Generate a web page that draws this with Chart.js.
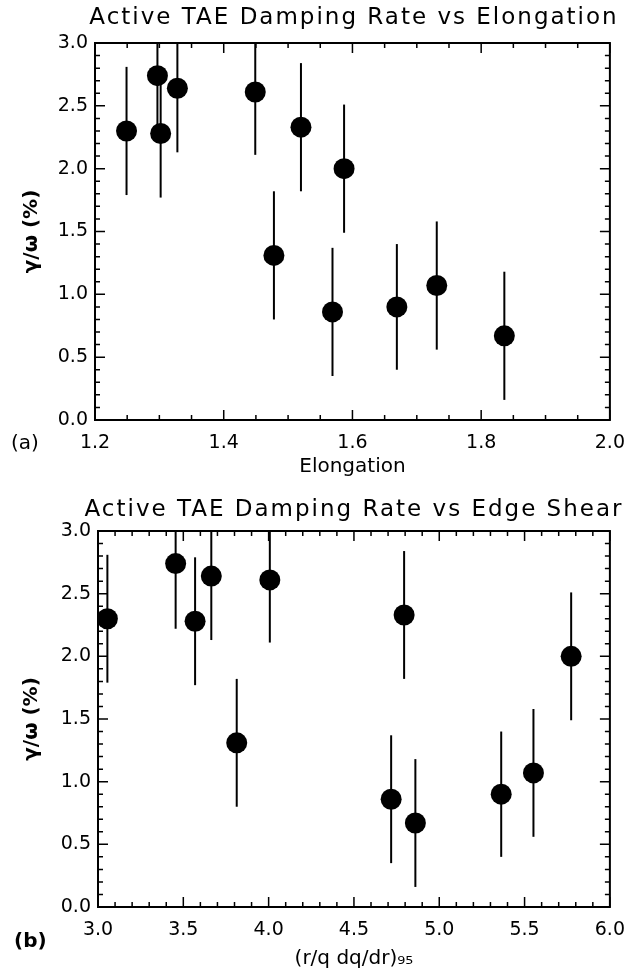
<!DOCTYPE html>
<html lang="en">
<head>
<meta charset="utf-8">
<title>Active TAE Damping Rate</title>
<script src="https://cdn.jsdelivr.net/npm/chart.js@4.4.1/dist/chart.umd.min.js"></script>
<style>
  html, body { margin: 0; padding: 0; background: #fff; }
  body { width: 637px; height: 971px; position: relative; overflow: hidden; font-family: "DejaVu Sans", sans-serif; color: #000; }
  .panel { position: absolute; left: 0; width: 637px; }
  #panelA { top: 0; height: 480px; }
  #panelB { top: 480px; height: 491px; }
  .titulo { position: absolute; font-size: 23px; line-height: 26px; letter-spacing: 2px; white-space: nowrap; transform: translateX(-50%); }
  .etiqueta { position: absolute; font-size: 20px; line-height: 22px; }
</style>
</head>
<body>
<div class="panel" id="panelA"><canvas id="graficaA"></canvas></div>
<div class="panel" id="panelB"><canvas id="graficaB"></canvas></div>

<div class="titulo" style="left:354px; top:3px;">Active TAE Damping Rate vs Elongation</div>
<div class="titulo" style="left:354px; top:495px;">Active TAE Damping Rate vs Edge Shear</div>
<div class="etiqueta" style="left:11px; top:431px;">(a)</div>
<div class="etiqueta" style="left:14px; top:929px; font-weight:bold;">(b)</div>

<script>
/* =======================================
   DATOS
======================================= */
// gamma/omega (%) de cada descarga, mismo orden en ambos paneles
const dampingRate = [2.30, 2.74, 2.28, 2.64, 2.61, 1.31, 2.33, 0.86, 2.00, 0.90, 1.07, 0.67];
// semiancho de la barra de error
const errorRate   = [0.51, 0.52, 0.51, 0.51, 0.50, 0.51, 0.51, 0.51, 0.51, 0.50, 0.51, 0.51];

// panel (a): elongación
const elongation = [1.249, 1.297, 1.302, 1.328, 1.449, 1.478, 1.520, 1.569, 1.587, 1.669, 1.731, 1.836];
// panel (b): cizalla de borde (r/q dq/dr)95
const edgeShear  = [3.055, 3.455, 3.569, 3.664, 4.007, 3.813, 4.794, 4.718, 5.773, 5.363, 5.552, 4.860];

const yTicks  = [0.0, 0.5, 1.0, 1.5, 2.0, 2.5, 3.0];
const xTicksA = [1.2, 1.4, 1.6, 1.8, 2.0];
const xTicksB = [3.0, 3.5, 4.0, 4.5, 5.0, 5.5, 6.0];

const FUENTE = "'DejaVu Sans', sans-serif";

/* =======================================
   PLUGIN: marco, marcas hacia dentro y barras de error
======================================= */
function dibujarMarcas(ctx, area, escala, menor, cadaMayor, horizontal) {
  const n = Math.round((escala.max - escala.min) / menor);
  for (let k = 0; k <= n; k++) {
    const v = escala.min + k * menor;
    const largo = k % cadaMayor === 0 ? 10 : 5;
    const p = escala.getPixelForValue(v);
    ctx.beginPath();
    if (horizontal) {
      ctx.moveTo(p, area.bottom); ctx.lineTo(p, area.bottom - largo);
      ctx.moveTo(p, area.top);    ctx.lineTo(p, area.top + largo);
    } else {
      ctx.moveTo(area.left, p);  ctx.lineTo(area.left + largo, p);
      ctx.moveTo(area.right, p); ctx.lineTo(area.right - largo, p);
    }
    ctx.stroke();
  }
}

const ejesIDL = {
  id: "ejesIDL",
  beforeDatasetsDraw(chart) {
    const { ctx, chartArea, scales } = chart;
    const ds = chart.data.datasets[0];
    ctx.save();
    ctx.beginPath();
    ctx.rect(chartArea.left, chartArea.top, chartArea.right - chartArea.left, chartArea.bottom - chartArea.top);
    ctx.clip();
    ctx.strokeStyle = "#000";
    ctx.lineWidth = 2;
    ds.data.forEach((pt, i) => {
      const px = scales.x.getPixelForValue(pt.x);
      ctx.beginPath();
      ctx.moveTo(px, scales.y.getPixelForValue(pt.y - ds.errores[i]));
      ctx.lineTo(px, scales.y.getPixelForValue(pt.y + ds.errores[i]));
      ctx.stroke();
    });
    ctx.restore();
  },
  afterDraw(chart, args, opts) {
    const { ctx, chartArea, scales } = chart;
    ctx.save();
    ctx.strokeStyle = "#000";
    ctx.lineWidth = 1.5;
    dibujarMarcas(ctx, chartArea, scales.x, opts.xMenor, opts.xCada, true);
    dibujarMarcas(ctx, chartArea, scales.y, 0.1, 5, false);
    ctx.lineWidth = 2;
    ctx.strokeRect(chartArea.left, chartArea.top, chartArea.right - chartArea.left, chartArea.bottom - chartArea.top);
    ctx.restore();
  }
};

/* =======================================
   GRÁFICAS
======================================= */
function crearPanel(canvasId, xs, xTicks, xMenor, xCada, tituloX, caja) {
  const puntos = xs.map((x, i) => ({ x, y: dampingRate[i] }));
  const xMin = xTicks[0];
  const xMax = xTicks[xTicks.length - 1];
  const xPaso = xTicks[1] - xTicks[0];

  return new Chart(document.getElementById(canvasId), {
    type: "scatter",
    data: {
      datasets: [{
        data: puntos,
        errores: errorRate,
        backgroundColor: "#000",
        borderColor: "#000",
        pointRadius: 10.5,
        pointHoverRadius: 10.5,
        borderWidth: 0
      }]
    },
    plugins: [ejesIDL],
    options: {
      responsive: true,
      maintainAspectRatio: false,
      animation: false,
      layout: { padding: { left: 0, right: caja.right, top: caja.top, bottom: 0 } },
      scales: {
        x: {
          type: "linear",
          min: xMin,
          max: xMax,
          afterFit: (s) => { s.height = caja.altoX; },
          afterBuildTicks: (s) => { s.ticks = xTicks.map((v) => ({ value: v })); },
          ticks: {
            stepSize: xPaso,
            padding: 12,
            color: "#000",
            font: { family: FUENTE, size: 19 },
            callback: (v) => Number(v).toFixed(1)
          },
          grid: { display: false, drawTicks: false },
          border: { display: false },
          title: {
            display: true,
            text: tituloX,
            color: "#000",
            font: { family: FUENTE, size: 20 },
            padding: { top: 0, bottom: caja.padTituloX }
          }
        },
        y: {
          type: "linear",
          min: 0,
          max: 3,
          afterFit: (s) => { s.width = caja.left; },
          afterBuildTicks: (s) => { s.ticks = yTicks.map((v) => ({ value: v })); },
          ticks: {
            stepSize: 0.5,
            padding: 7,
            color: "#000",
            font: { family: FUENTE, size: 19 },
            callback: (v) => Number(v).toFixed(1)
          },
          grid: { display: false, drawTicks: false },
          border: { display: false },
          title: {
            display: true,
            text: "γ/ω (%)",
            color: "#000",
            font: { family: FUENTE, size: 20, weight: "bold" },
            padding: { top: 20, bottom: 0 }
          }
        }
      },
      plugins: {
        legend: { display: false },
        tooltip: { enabled: false },
        ejesIDL: { xMenor, xCada }
      }
    }
  });
}

crearPanel("graficaA", elongation, xTicksA, 0.05, 4, "Elongation",
  { left: 95, right: 26, top: 43, altoX: 60, padTituloX: 1 });
crearPanel("graficaB", edgeShear, xTicksB, 0.1, 5, "(r/q dq/dr)₉₅",
  { left: 98, right: 25, top: 51, altoX: 64, padTituloX: 0 });
</script>
</body>
</html>
